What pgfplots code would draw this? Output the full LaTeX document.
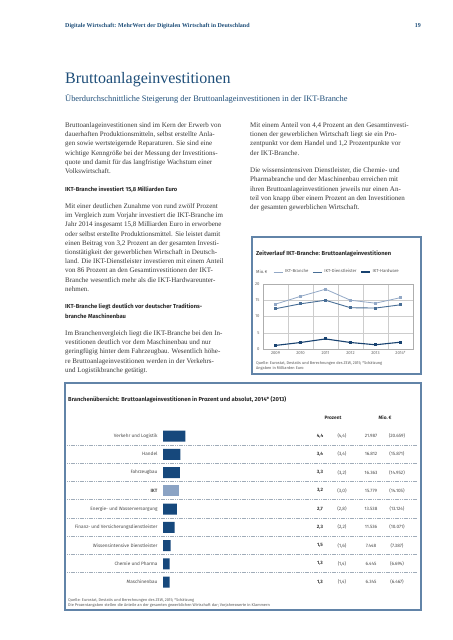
\documentclass[border=0pt]{standalone}
\usepackage{fontspec}
\setmainfont{Liberation Serif}
\setsansfont{Fira Sans}
\usepackage{pgfplots}
\pgfplotsset{compat=1.18}
\definecolor{titleblue}{RGB}{30,78,121}
\definecolor{bodytext}{RGB}{55,55,55}
\definecolor{headtext}{RGB}{45,45,45}
\definecolor{barblue}{RGB}{22,72,124}
\definecolor{barlight}{RGB}{139,163,196}
\definecolor{lineA}{RGB}{146,168,198}
\definecolor{lineB}{RGB}{72,110,150}
\definecolor{lineC}{RGB}{24,66,112}
\definecolor{boxblue}{RGB}{98,132,168}
\definecolor{gridgray}{RGB}{205,205,205}
\definecolor{sepgray}{RGB}{160,172,185}
\newcommand\bodyfont{\rmfamily\fontsize{7bp}{9.2bp}\selectfont}
\newcommand\headfont{\sffamily\bfseries\fontsize{5.8bp}{7bp}\selectfont}
\newcommand\bl[3]{\node[anchor=base west,inner sep=0pt,font=\bodyfont,text=bodytext] at (#1bp,-#2bp) {#3};}
\newcommand\hl[3]{\node[anchor=base west,inner sep=0pt,font=\headfont,text=headtext] at (#1bp,-#2bp) {#3};}
\newcommand\rowfont{\sffamily\fontsize{4.7bp}{5.5bp}\selectfont}
\newcommand\rowvals[5]{%
  \node[anchor=center,inner sep=0pt,font=\rowfont\bfseries,text=black!80] at (320bp,-#1bp) {#2};
  \node[anchor=center,inner sep=0pt,font=\rowfont,text=black!70] at (342bp,-#1bp) {#3};
  \node[anchor=center,inner sep=0pt,font=\rowfont,text=black!70] at (371bp,-#1bp) {#4};
  \node[anchor=center,inner sep=0pt,font=\rowfont,text=black!70] at (397bp,-#1bp) {#5};}
\begin{document}
\begin{tikzpicture}
\useasboundingbox[fill=white] (0bp,0bp) rectangle (453bp,-640bp);
% header
\node[anchor=base west,inner sep=0pt,font=\rmfamily\bfseries\fontsize{6bp}{7bp}\selectfont,text=titleblue] at (65bp,-27bp) {Digitale Wirtschaft: MehrWert der Digitalen Wirtschaft in Deutschland};
\node[anchor=base east,inner sep=0pt,font=\rmfamily\bfseries\fontsize{6bp}{7bp}\selectfont,text=titleblue] at (421bp,-27bp) {19};
\node[anchor=base west,inner sep=0pt,font=\rmfamily\fontsize{16bp}{18bp}\selectfont,text=titleblue] at (65bp,-83bp) {Bruttoanlageinvestitionen};
\node[anchor=base west,inner sep=0pt,font=\rmfamily\fontsize{8.4bp}{10bp}\selectfont,text=titleblue] at (65bp,-101bp) {Überdurchschnittliche Steigerung der Bruttoanlageinvestitionen in der IKT-Branche};
% left column
\bl{65}{127.5}{Bruttoanlageinvestitionen sind im Kern der Erwerb von}
\bl{65}{136.7}{dauerhaften Produktionsmitteln, selbst erstellte Anla-}
\bl{65}{145.9}{gen sowie wertsteigernde Reparaturen. Sie sind eine}
\bl{65}{155.1}{wichtige Kenngröße bei der Messung der Investitions-}
\bl{65}{164.3}{quote und damit für das langfristige Wachstum einer}
\bl{65}{173.5}{Volkswirtschaft.}
\hl{65}{191}{IKT-Branche investiert 15,8 Milliarden Euro}
\bl{65}{208.5}{Mit einer deutlichen Zunahme von rund zwölf Prozent}
\bl{65}{217.7}{im Vergleich zum Vorjahr investiert die IKT-Branche im}
\bl{65}{226.9}{Jahr 2014 insgesamt 15,8 Milliarden Euro in erworbene}
\bl{65}{236.1}{oder selbst erstellte Produktionsmittel. Sie leistet damit}
\bl{65}{245.3}{einen Beitrag von 3,2 Prozent an der gesamten Investi-}
\bl{65}{254.5}{tionstätigkeit der gewerblichen Wirtschaft in Deutsch-}
\bl{65}{263.7}{land. Die IKT-Dienstleister investieren mit einem Anteil}
\bl{65}{272.9}{von 86 Prozent an den Gesamtinvestitionen der IKT-}
\bl{65}{282.1}{Branche wesentlich mehr als die IKT-Hardwareunter-}
\bl{65}{291.3}{nehmen.}
\hl{65}{308.8}{IKT-Branche liegt deutlich vor deutscher Traditions-}
\hl{65}{318}{branche Maschinenbau}
\bl{65}{335.5}{Im Branchenvergleich liegt die IKT-Branche bei den In-}
\bl{65}{344.7}{vestitionen deutlich vor dem Maschinenbau und nur}
\bl{65}{353.9}{geringfügig hinter dem Fahrzeugbau. Wesentlich höhe-}
\bl{65}{363.1}{re Bruttoanlageinvestitionen werden in der Verkehrs-}
\bl{65}{372.3}{und Logistikbranche getätigt.}
% right column
\bl{250}{127.5}{Mit einem Anteil von 4,4 Prozent an den Gesamtinvesti-}
\bl{250}{136.7}{tionen der gewerblichen Wirtschaft liegt sie ein Pro-}
\bl{250}{145.9}{zentpunkt vor dem Handel und 1,2 Prozentpunkte vor}
\bl{250}{155.1}{der IKT-Branche.}
\bl{250}{172.6}{Die wissensintensiven Dienstleister, die Chemie- und}
\bl{250}{181.8}{Pharmabranche und der Maschinenbau erreichen mit}
\bl{250}{191}{ihren Bruttoanlageinvestitionen jeweils nur einen An-}
\bl{250}{200.2}{teil von knapp über einem Prozent an den Investitionen}
\bl{250}{209.4}{der gesamten gewerblichen Wirtschaft.}
% line chart box
\draw[boxblue,line width=1.2bp] (252bp,-237bp) rectangle (421bp,-374bp);
\node[anchor=base west,inner sep=0pt,font=\headfont,text=headtext] at (256bp,-255bp) {Zeitverlauf IKT-Branche: Bruttoanlageinvestitionen};
\node[anchor=west,inner sep=0pt,font=\sffamily\fontsize{4.3bp}{5bp}\selectfont,text=black!65] at (256bp,-272bp) {Mio.\,€};
\begin{axis}[
  at={(263bp,-349bp)}, anchor=south west,
  scale only axis, width=150bp, height=65bp,
  xmin=0, xmax=6, ymin=0, ymax=20,
  xtick={0.5,1.5,2.5,3.5,4.5,5.5},
  xticklabels={2009,2010,2011,2012,2013,2014*},
  minor xtick={1,2,3,4,5},
  xminorgrids, ymajorgrids,
  ytick={0,5,10,15,20},
  grid style={gridgray,line width=0.5bp},
  minor grid style={gridgray,line width=0.5bp},
  axis line style={gridgray!85!black,line width=0.5bp},
  major tick length=0pt, minor tick length=0pt,
  /pgf/number format/assume math mode=true,
  ticklabel style={font=\sffamily\fontsize{4.2bp}{5bp}\selectfont,text=black!60},
  xticklabel style={anchor=base,yshift=-5.5bp},
  legend style={at={(0.067,1.185)},anchor=west,draw=none,fill=none,
    font=\sffamily\fontsize{4.3bp}{5bp}\selectfont,text=black!65,inner xsep=0pt,inner ysep=0pt},
  legend columns=3,
  legend cell align=left,
  legend image code/.code={\draw[#1] (0bp,0bp) -- (9bp,0bp);},
  /tikz/every even column/.append style={column sep=2bp},
  /tikz/every odd column/.append style={column sep=0bp},
]
\addplot[lineA,line width=0.8bp,mark=square*,mark size=0.9bp,mark options={fill=lineA}] coordinates {(0.5,13.8)(1.5,16.2)(2.5,18.4)(3.5,15.0)(4.5,14.1)(5.5,15.8)};
\addlegendentry{IKT-Branche\hspace{8bp}}
\addplot[lineB,line width=0.9bp,mark=square*,mark size=0.9bp,mark options={fill=lineB}] coordinates {(0.5,12.4)(1.5,13.9)(2.5,15.0)(3.5,12.7)(4.5,12.6)(5.5,13.6)};
\addlegendentry{IKT-Dienstleister\hspace{3bp}}
\addplot[lineC,line width=1.1bp,mark=square*,mark size=0.9bp,mark options={fill=lineC}] coordinates {(0.5,1.1)(1.5,2.0)(2.5,3.1)(3.5,2.0)(4.5,1.3)(5.5,2.1)};
\addlegendentry{IKT-Hardware}
\end{axis}
\node[anchor=base west,inner sep=0pt,font=\sffamily\fontsize{3.9bp}{5bp}\selectfont,text=black!65] at (256bp,-364bp) {Quelle: Eurostat, Destatis und Berechnungen des ZEW, 2015; *Schätzung};
\node[anchor=base west,inner sep=0pt,font=\sffamily\fontsize{3.9bp}{5bp}\selectfont,text=black!65] at (256bp,-369.5bp) {Angaben in Milliarden Euro};
% bar table box
\draw[boxblue,line width=1.2bp] (65bp,-383bp) rectangle (421bp,-610bp);
\node[anchor=base west,inner sep=0pt,font=\headfont,text=headtext] at (68bp,-401bp) {Branchenübersicht: Bruttoanlageinvestitionen in Prozent und absolut, 2014* (2013)};
\node[anchor=center,inner sep=0pt,font=\sffamily\bfseries\fontsize{4.8bp}{5.5bp}\selectfont,text=headtext] at (333bp,-418bp) {Prozent};
\node[anchor=center,inner sep=0pt,font=\sffamily\bfseries\fontsize{4.8bp}{5.5bp}\selectfont,text=headtext] at (385bp,-418bp) {Mio.\,€};
\foreach \k in {0,...,7} {
  \draw[sepgray,line width=0.8bp,dash pattern=on 1.2bp off 0.6bp] (67bp,{-445.1bp-\k*18.25bp}) -- (417bp,{-445.1bp-\k*18.25bp});
}
\begin{axis}[
  at={(163bp,-426.875bp)}, anchor=north west,
  scale only axis, width=51bp, height=164.25bp,
  xbar, bar width=11bp,
  xmin=0, xmax=10, ymin=-0.5, ymax=8.5,
  y dir=reverse,
  axis line style={draw=none},
  xtick=\empty,
  ytick={0,1,2,3,4,5,6,7,8},
  yticklabels={Verkehr und Logistik,Handel,Fahrzeugbau,\textbf{IKT},Energie- und Wasserversorgung,Finanz- und Versicherungsdienstleister,Wissensintensive Dienstleister,Chemie und Pharma,Maschinenbau},
  major tick length=0pt,
  yticklabel style={font=\rowfont,text=black!70,xshift=-2bp},
  clip=false,
]
\addplot[fill=barblue,draw=none,bar shift=0pt] coordinates {(4.4,0)(3.4,1)(3.3,2)(2.7,4)(2.3,5)(1.5,6)(1.3,7)(1.3,8)};
\addplot[fill=barlight,draw=none,bar shift=0pt] coordinates {(3.2,3)};
\end{axis}
\rowvals{436}{4,4}{(4,4)}{21.987}{(20.659)}
\rowvals{454.25}{3,4}{(3,4)}{16.812}{(15.871)}
\rowvals{472.5}{3,3}{(3,2)}{16.363}{(14.952)}
\rowvals{490.75}{3,2}{(3,0)}{15.779}{(14.105)}
\rowvals{509}{2,7}{(2,8)}{13.538}{(13.124)}
\rowvals{527.25}{2,3}{(2,2)}{11.536}{(10.071)}
\rowvals{545.5}{1,5}{(1,6)}{7.448}{(7.387)}
\rowvals{563.75}{1,3}{(1,4)}{6.445}{(6.694)}
\rowvals{582}{1,3}{(1,4)}{6.345}{(6.467)}
\node[anchor=base west,inner sep=0pt,font=\sffamily\fontsize{3.9bp}{5bp}\selectfont,text=black!65] at (68bp,-601bp) {Quelle: Eurostat, Destatis und Berechnungen des ZEW, 2015; *Schätzung};
\node[anchor=base west,inner sep=0pt,font=\sffamily\fontsize{3.9bp}{5bp}\selectfont,text=black!65] at (68bp,-606.5bp) {Die Prozentangaben stellen die Anteile an der gesamten gewerblichen Wirtschaft dar; Vorjahreswerte in Klammern};
\end{tikzpicture}
\end{document}
